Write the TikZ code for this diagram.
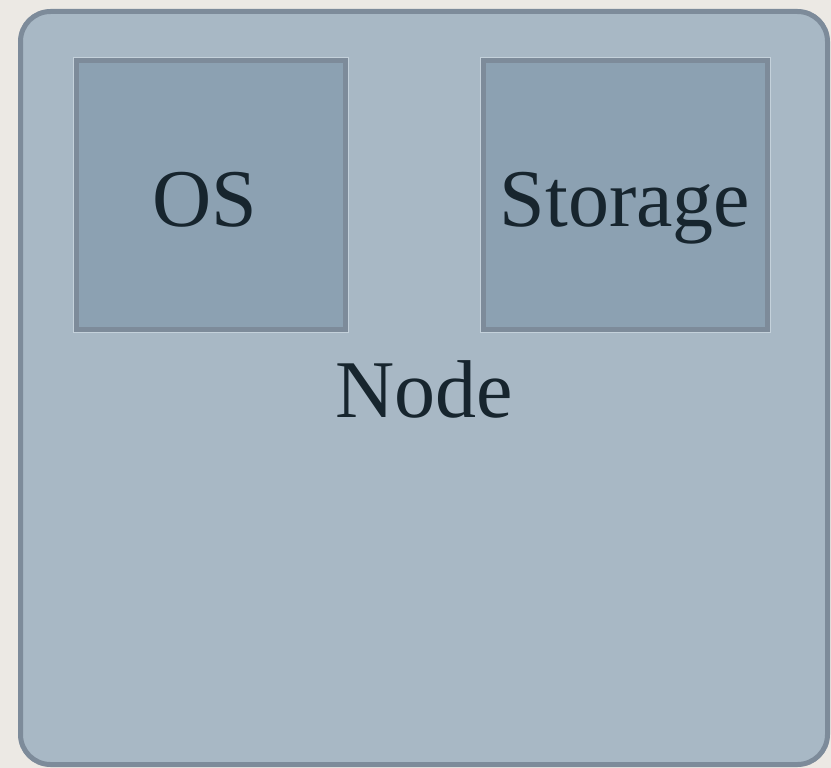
\documentclass[tikz,border=0pt]{standalone}
\usepackage{fontspec}
\setmainfont{Liberation Serif}
\definecolor{paper}{HTML}{ECE9E4}
\definecolor{nodefill}{HTML}{A8B8C5}
\definecolor{boxfill}{HTML}{8CA1B2}
\definecolor{edge}{HTML}{7D8B9A}
\definecolor{ink}{HTML}{17252E}
\definecolor{halo}{HTML}{C4D1DB}
\tikzset{
  container/.style={draw=edge, line width=5pt, fill=nodefill, rounded corners=30pt},
  partbox/.style={draw=edge, line width=5pt, fill=boxfill},
  rim/.style={draw=halo, line width=1pt},
  label/.style={text=ink, font=\fontsize{82}{84}\selectfont, inner sep=0pt, anchor=base},
}
\begin{document}
\begin{tikzpicture}[x=1pt, y=-1pt]
  \useasboundingbox (0,0) rectangle (831,768);
  \fill[paper] (0,0) rectangle (831,768);

  % outer node container
  \draw[container] (20.5,11.5) rectangle (827.5,764.5);

  % inner component boxes with a thin light rim
  \draw[rim] (73.5,57.5) rectangle (348.5,332.5);
  \draw[partbox] (76.5,60.5) rectangle (345.5,329.5);
  \draw[rim] (480.5,57.5) rectangle (770.5,332.5);
  \draw[partbox] (483.5,60.5) rectangle (767.5,329.5);

  % labels
  \node[label] (os) at (205,226) {OS};
  \node[label] (storage) at (625,226) {Storage};
  \node[label] (node) at (424,417) {Node};
\end{tikzpicture}
\end{document}
